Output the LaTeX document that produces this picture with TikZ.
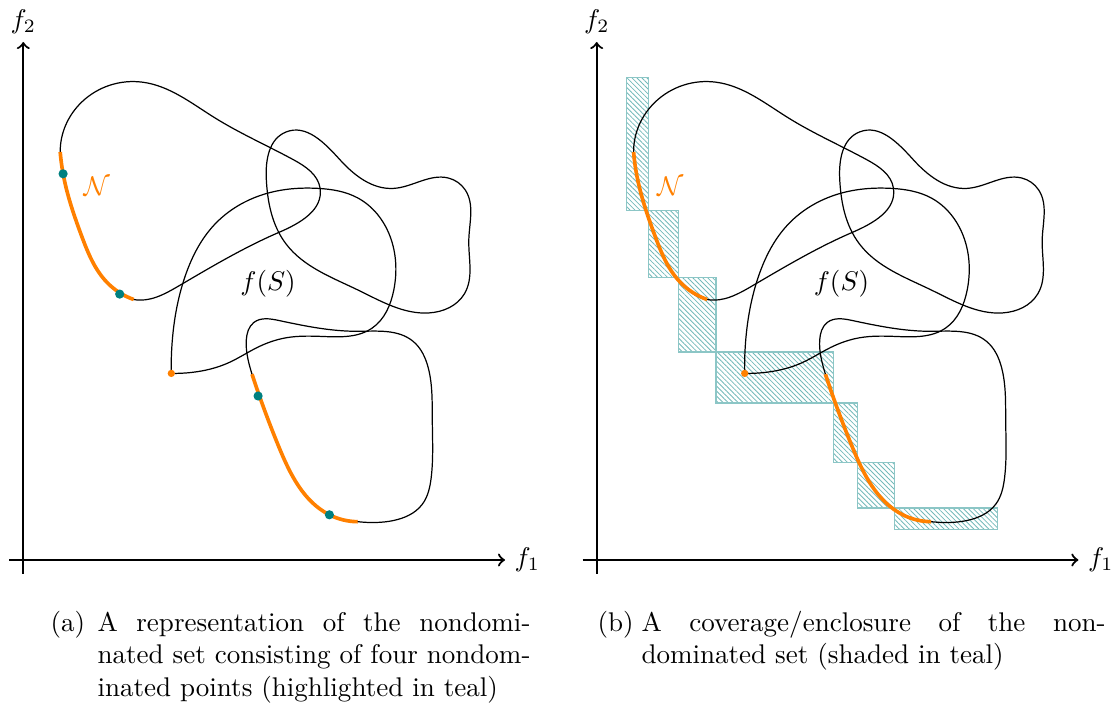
\documentclass[tikz,border=0pt]{standalone}
\usetikzlibrary{patterns.meta,hobby}
\begin{document}
\begin{tikzpicture}[x=0.37pt,y=0.37pt,
  axis/.style={line width=0.8pt,->},
  fcurve/.style={line width=0.45pt,black,use Hobby shortcut},
  nset/.style={line width=1.35pt,orange,use Hobby shortcut},
  ndpt/.style={fill=teal},
  coverbox/.style={draw=teal!45,line width=0.5pt,
    pattern={Lines[angle=-45,distance=1.3pt,line width=0.3pt]},pattern color=teal!55},
  lbl/.style={inner sep=0pt},
  captext/.style={inner sep=0pt,anchor=base west}]
\useasboundingbox (0,0) rectangle (1113,708);

\newcommand\fspanel[1]{%
  % loop 1
  \draw[fcurve,closed=true] (36.9,408.0) .. (58.4,457.9) .. (119.4,477.8) .. (191.0,442.5)
    .. (269.9,400.4) .. (296.8,371.6) .. (255.6,327.6) .. (155.2,273.9)
    .. (110.4,260.5) .. (83.5,277.8) .. (58.4,323.8) .. (39.8,386.2);
  % loop 2
  \draw[fcurve,closed=true] (262.7,428.0) .. (243.0,381.2) .. (262.7,316.1) .. (334.4,270.1)
    .. (406.1,247.1) .. (441.0,266.0) .. (445.5,320.0) .. (442.0,370.0)
    .. (425.0,382.0) .. (370.3,371.6) .. (316.5,400.4);
  % loop 3 (corner at the isolated point)
  \draw[fcurve] (148.0,186.6) .. (149.8,228.0) .. (162.4,285.4) .. (191.0,335.2)
    .. (241.2,365.9) .. (295.0,371.6) .. (334.4,362.1) .. (366.7,323.8)
    .. (370.5,270.0) .. (348.7,231.8) .. (300.0,223.5) .. (262.7,222.2)
    .. (234.1,212.6) .. (205.4,197.3) .. (169.5,187.7) .. (148.0,186.6);
  % loop 4
  \draw[fcurve,closed=true] (228.7,185.8) .. (255.6,113.0) .. (306.1,45.2) .. (334.4,38.3)
    .. (370.3,39.5) .. (398.9,55.6) .. (407.9,82.4) .. (409.0,139.8)
    .. (405.0,192.0) .. (390.0,218.5) .. (334.4,228.7) .. (255.6,239.5)
    .. (230.5,237.5) .. (223.0,220.0);
  % nondominated set
  \draw[nset] (36.9,408.0) .. (39.8,386.2) .. (58.4,323.8) .. (83.5,277.8) .. (110.4,260.5);
  \draw[nset] (228.7,185.8) .. (255.6,113.0) .. (306.1,45.2) .. (334.4,38.3);
  \fill[orange] (148.0,186.6) circle[radius=1.35pt];
  % axes
  \coordinate (xs#1) at (-14,0);
  \coordinate (xe#1) at (481.7,0);
  \coordinate (ys#1) at (0,-14);
  \coordinate (ye#1) at (0,518);
  \draw[axis] (xs#1) -- (xe#1);
  \draw[axis] (ys#1) -- (ye#1);
  \node[lbl] (f1#1) at (504,0) {$f_1$};
  \node[lbl] (f2#1) at (0,538.3) {$f_2$};
  \node[lbl,text=orange] (N#1) at (73.5,373.6) {$\mathcal{N}$};
  \node[lbl] (fS#1) at (244.8,275.9) {$f(S)$};
}

% panel (a)
\begin{scope}[shift={(23.3,148)}]
  \fspanel{a}
  \fill[ndpt] (39.8,386.2) circle[radius=1.7pt];
  \fill[ndpt] (96.4,265.9) circle[radius=1.7pt];
  \fill[ndpt] (234.8,164.0) circle[radius=1.7pt];
  \fill[ndpt] (306.1,45.2) circle[radius=1.7pt];
\end{scope}

% panel (b)
\begin{scope}[shift={(596.7,148)}]
  \path[coverbox] (29.5,349.8) rectangle (52.1,482.5);
  \path[coverbox] (52.1,282.8) rectangle (82.0,349.8);
  \path[coverbox] (82.0,208.0) rectangle (119.2,282.8);
  \path[coverbox] (119.2,157.1) rectangle (237.0,208.0);
  \path[coverbox] (237.0,97.7) rectangle (260.6,157.1);
  \path[coverbox] (260.6,52.0) rectangle (298.1,97.7);
  \path[coverbox] (298.1,30.5) rectangle (400.5,52.0);
  \fspanel{b}
\end{scope}

% captions
\node[captext] (capa) at (50,76) {(a)};
\node[captext] (capa1) at (97,76) {\makebox[160.2pt][s]{A representation of the nondomi-}};
\node[captext] (capa2) at (97,44) {\makebox[160.2pt][s]{nated set consisting of four nondom-}};
\node[captext] (capa3) at (97,12) {inated points (highlighted in teal)};
\node[captext] (capb) at (597,76) {(b)};
\node[captext] (capb1) at (641,76) {\makebox[171.7pt][s]{A coverage/enclosure of the non-}};
\node[captext] (capb2) at (641,44) {dominated set (shaded in teal)};
\end{tikzpicture}
\end{document}
